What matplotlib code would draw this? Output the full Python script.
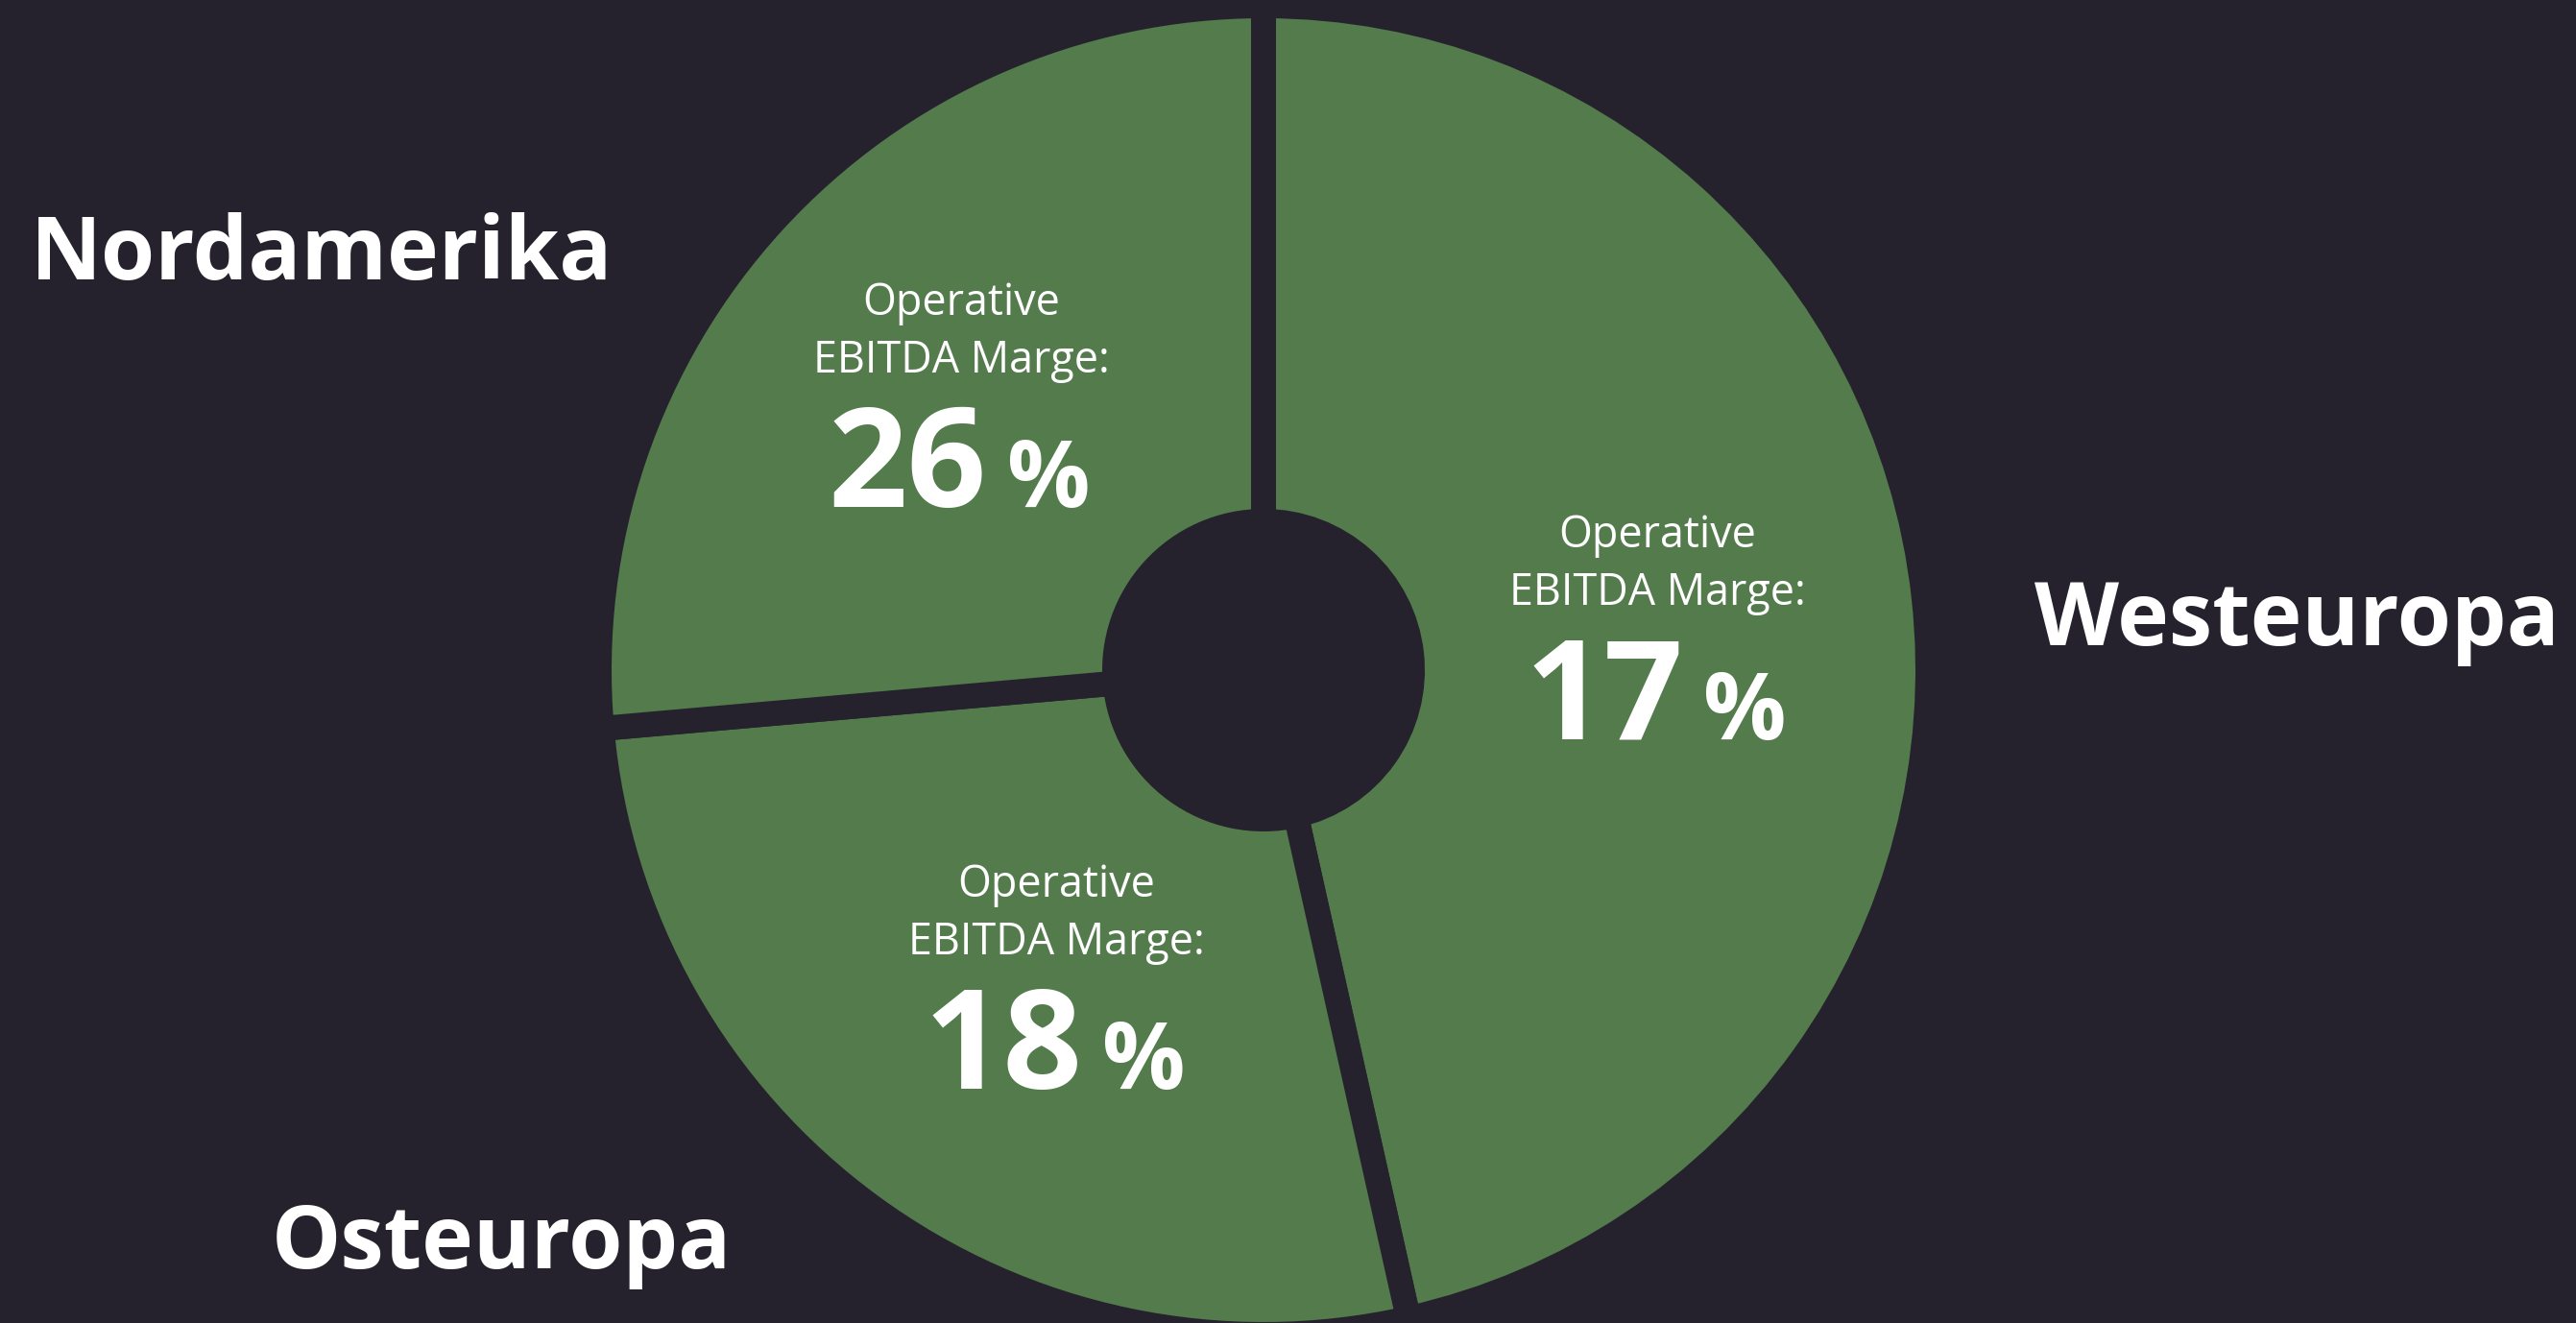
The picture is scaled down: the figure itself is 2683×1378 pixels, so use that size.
"""Donut chart: regional revenue share with operative EBITDA margin per region."""

import matplotlib

matplotlib.use("Agg")
import matplotlib.pyplot as plt

# data (clockwise from 12 o'clock)
regions = ["Westeuropa", "Osteuropa", "Nordamerika"]
shares = [46.5, 27.1, 26.4]  # share of the ring
margins = [17, 18, 26]  # operative EBITDA margin in %
margin_caption = "Operative\nEBITDA Marge:"

BG = "#25222e"
GREEN = "#537b4c"
W, H = 2683, 1378  # canvas in pixels, used as data units

# layout (pixel coords, y measured from the top)
center = (1316, 698)
r_outer, r_inner, gap = 679, 168, 26
label_pos = {"Westeuropa": (2392, 672), "Osteuropa": (522, 1321), "Nordamerika": (335, 291)}
block_pos = {"Westeuropa": (1726, 570), "Osteuropa": (1100, 934), "Nordamerika": (1001, 328)}

plt.rcParams["font.family"] = ["Open Sans", "DejaVu Sans"]

fig = plt.figure(figsize=(W / 100, H / 100), dpi=100, facecolor=BG)
ax = fig.add_axes([0, 0, 1, 1])
ax.set_facecolor(BG)

lw_pt = gap * 72 / 100  # stroke in points: half of it eats into each wedge
ax.pie(
    shares,
    startangle=90,
    counterclock=False,
    colors=[GREEN] * len(shares),
    center=(center[0], H - center[1]),
    radius=r_outer + gap / 2,
    wedgeprops=dict(width=(r_outer + gap / 2) - (r_inner - gap / 2),
                    edgecolor=BG, linewidth=lw_pt, joinstyle="miter"),
)
ax.set_xlim(0, W)
ax.set_ylim(0, H)
ax.set_aspect("equal")
ax.axis("off")

cap_top, cap_bottom = margin_caption.split("\n")
for name, m in zip(regions, margins):
    lx, ly = label_pos[name]
    ax.text(lx, H - ly, name, ha="center", va="baseline",
            fontsize=65.5, fontweight="bold", color="white")

    cx, by = block_pos[name]
    ax.text(cx, H - by, cap_top, ha="center", va="baseline",
            fontsize=32.3, color="white")
    ax.text(cx, H - (by + 60), cap_bottom, ha="center", va="baseline",
            fontsize=32.3, color="white")
    ax.text(cx + 27, H - (by + 200), f"{m}", ha="right", va="baseline",
            fontsize=104, fontweight="bold", color="white")
    ax.text(cx + 48, H - (by + 200), "%", ha="left", va="baseline",
            fontsize=69, fontweight="bold", color="white")

fig.savefig("out.png", dpi=100, facecolor=BG)
